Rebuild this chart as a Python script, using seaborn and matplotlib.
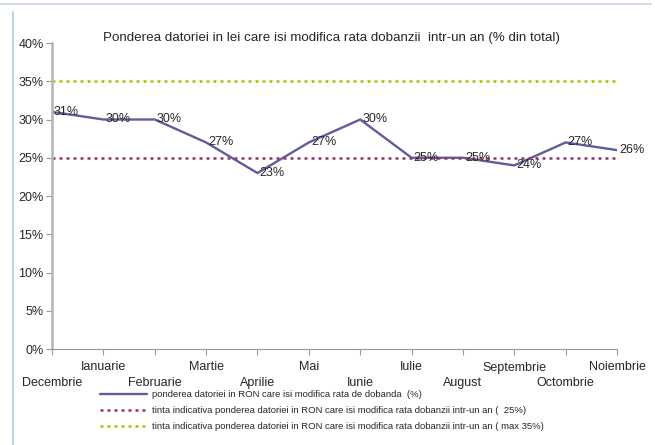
import numpy as np
import pandas as pd
import matplotlib
matplotlib.use("Agg")
import matplotlib.pyplot as plt
from matplotlib.lines import Line2D
import seaborn as sns

####
#   Data
####
months = ["Decembrie", "Ianuarie", "Februarie", "Martie", "Aprilie", "Mai",
          "Iunie", "Iulie", "August", "Septembrie", "Octombrie", "Noiembrie"]
pondere = [31, 30, 30, 27, 23, 27, 30, 25, 25, 24, 27, 26]
tinta_25 = 25
tinta_35 = 35

title = "Ponderea datoriei in lei care isi modifica rata dobanzii  intr-un an (% din total)"
lbl_main = "ponderea datoriei in RON care isi modifica rata de dobanda  (%)"
lbl_25 = "tinta indicativa ponderea datoriei in RON care isi modifica rata dobanzii intr-un an (  25%)"
lbl_35 = "tinta indicativa ponderea datoriei in RON care isi modifica rata dobanzii intr-un an ( max 35%)"

df = pd.DataFrame({"idx": np.arange(len(months)), "luna": months, "val": pondere})

sns.set_style("white")
plt.rcParams['font.family'] = ['Liberation Sans', 'DejaVu Sans']

fig = plt.figure(figsize=(6.55, 4.45), dpi=100)
ax = fig.add_axes([52/655, 1 - 349/445, (617 - 52)/655, (349 - 43)/445])

sns.lineplot(data=df, x="idx", y="val", ax=ax, color="#5e5e9e", linewidth=1.7,
             label=lbl_main)
ax.axhline(tinta_25, color="#993366", linestyle=(0, (1.2, 1.6)), linewidth=1.8, label=lbl_25)
ax.axhline(tinta_35, color="#99cc00", linestyle=(0, (1.2, 1.6)), linewidth=1.8, label=lbl_35)

# data labels
for i, v in enumerate(pondere):
    ax.text(i + 0.04, v, "{}%".format(v), ha="left", va="center", fontsize=9)

ax.set_xlim(0, len(months) - 1)
ax.set_ylim(0, 40)
ax.set_yticks(np.arange(0, 41, 5))
ax.set_yticklabels(["{}%".format(t) for t in range(0, 41, 5)], fontsize=9)

# two rows of month labels: odd months up, even months down
ax.xaxis.remove_overlapping_locs = False
ax.set_xticks(df["idx"])
ax.set_xticklabels([m if i % 2 == 1 else "" for i, m in enumerate(months)], fontsize=9)
ax.set_xticks(df["idx"][::2], minor=True)
ax.set_xticklabels(months[::2], minor=True, fontsize=9)
ax.set_xlabel("")
ax.set_ylabel("")

for s in ["top", "right"]:
    ax.spines[s].set_visible(False)
ax.spines["left"].set_color("#b4b4b4")
ax.spines["left"].set_linewidth(1.8)
ax.spines["bottom"].set_color("#999999")
ax.spines["bottom"].set_linewidth(0.8)
ax.tick_params(axis="both", which="major", length=4, width=0.8, color="#999999",
               direction="out", left=True, bottom=True, pad=2)
ax.tick_params(axis="x", which="major", pad=5)
ax.tick_params(axis="x", which="minor", length=0, bottom=True, pad=20)

fig.text(103/655, 1 - 38/445, title, ha="left", va="center", fontsize=9.6)

leg = ax.legend(loc="upper left", bbox_to_anchor=(100/655, 1 - 390/445),
                bbox_transform=fig.transFigure, frameon=False, fontsize=6.8,
                handlelength=5.0, handletextpad=0.5, labelspacing=0.75,
                borderpad=0, borderaxespad=0)

# frame remnants of the original picture
fig.add_artist(Line2D([0, 651/655], [1 - 4/445, 1 - 4/445], color="#c5d3e6", linewidth=1.2))
fig.add_artist(Line2D([13/655, 13/655], [0, 1 - 12/445], color="#b8c9e0", linewidth=1.2))

fig.savefig("out.png", dpi=100)
